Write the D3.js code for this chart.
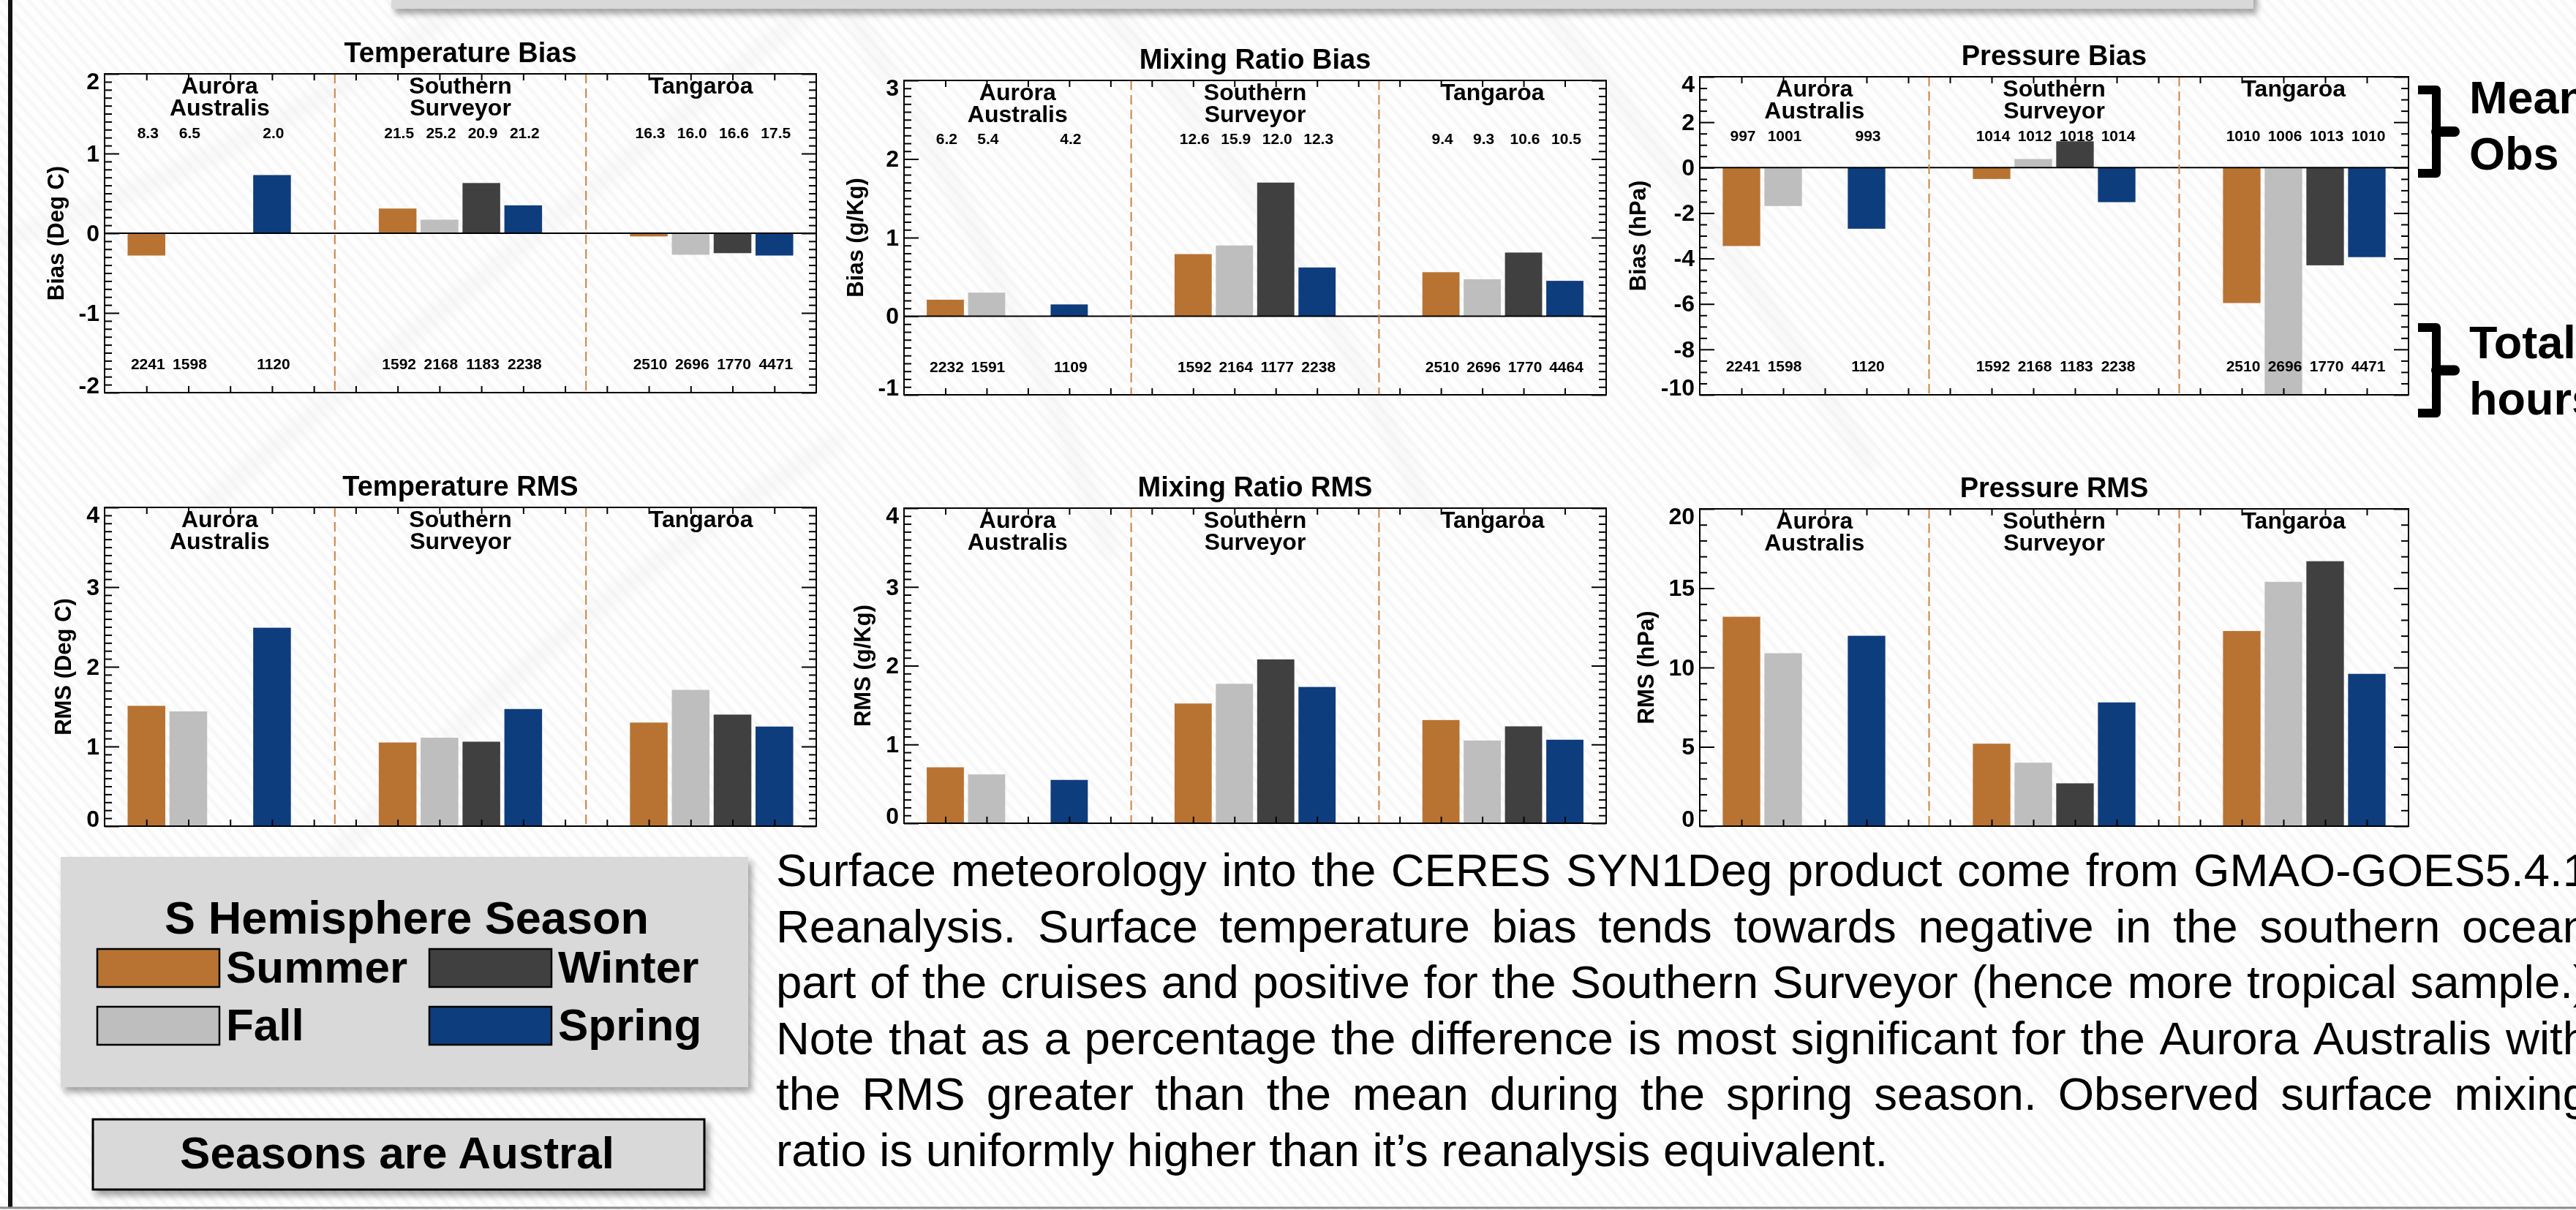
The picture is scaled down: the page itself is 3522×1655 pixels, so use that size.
<!DOCTYPE html>
<html>
<head>
<meta charset="utf-8">
<script src="https://cdn.jsdelivr.net/npm/d3@7"></script>
<style>
  body { margin: 0; background: #fff; overflow: hidden; }
</style>
</head>
<body>
<script>
// ---- data ----
const ships = [["Aurora", "Australis"], ["Southern", "Surveyor"], ["Tangaroa"]];
const seasons = ["Summer", "Fall", "Winter", "Spring"];
const seasonColors = ["#b87333", "#bebebe", "#404040", "#0e3d7d"];

// one row per ship, one column per season (null = no cruise that season)
const tempBias = [[-0.28, -0.01, null, 0.73], [0.31, 0.17, 0.63, 0.35], [-0.04, -0.27, -0.25, -0.28]];
const mixBias  = [[0.21, 0.30, null, 0.15], [0.79, 0.90, 1.70, 0.62], [0.56, 0.47, 0.81, 0.45]];
const presBias = [[-3.45, -1.69, null, -2.69], [-0.50, 0.38, 1.16, -1.52], [-5.96, -10.5, -4.30, -3.94]];
const tempRms  = [[1.51, 1.44, null, 2.49], [1.05, 1.11, 1.06, 1.47], [1.30, 1.71, 1.40, 1.25]];
const mixRms   = [[0.71, 0.62, null, 0.55], [1.52, 1.77, 2.08, 1.73], [1.31, 1.05, 1.23, 1.06]];
const presRms  = [[13.2, 10.9, null, 12.0], [5.2, 4.0, 2.7, 7.8], [12.3, 15.4, 16.7, 9.6]];

// mean observed values printed above the bars
const tempMeans = [[8.3, 6.5, null, 2.0], [21.5, 25.2, 20.9, 21.2], [16.3, 16.0, 16.6, 17.5]];
const mixMeans  = [[6.2, 5.4, null, 4.2], [12.6, 15.9, 12.0, 12.3], [9.4, 9.3, 10.6, 10.5]];
const presMeans = [[997, 1001, null, 993], [1014, 1012, 1018, 1014], [1010, 1006, 1013, 1010]];

// total hours printed near the bottom
const tempCounts = [[2241, 1598, null, 1120], [1592, 2168, 1183, 2238], [2510, 2696, 1770, 4471]];
const mixCounts  = [[2232, 1591, null, 1109], [1592, 2164, 1177, 2238], [2510, 2696, 1770, 4464]];
const presCounts = [[2241, 1598, null, 1120], [1592, 2168, 1183, 2238], [2510, 2696, 1770, 4471]];

const paraLines = [
  "Surface meteorology into the CERES SYN1Deg product come from GMAO-GOES5.4.1",
  "Reanalysis. Surface temperature bias tends towards negative in the southern ocean",
  "part of the cruises and positive for the Southern Surveyor (hence more tropical sample.)",
  "Note that as a percentage the difference is most significant for the Aurora Australis with",
  "the RMS greater than the mean during the spring season. Observed surface mixing",
  "ratio is uniformly higher than it\u2019s reanalysis equivalent."
];

const panels = [
  { title: "Temperature Bias", ytitle: "Bias (Deg C)", values: tempBias, domain: [-2, 2], major: 1, minor: 0.1, means: tempMeans, counts: tempCounts, fmt: ".1f" },
  { title: "Mixing Ratio Bias", ytitle: "Bias (g/Kg)", values: mixBias, domain: [-1, 3], major: 1, minor: 0.1, means: mixMeans, counts: mixCounts, fmt: ".1f" },
  { title: "Pressure Bias", ytitle: "Bias (hPa)", values: presBias, domain: [-10, 4], major: 2, minor: 0.5, means: presMeans, counts: presCounts, fmt: "d" },
  { title: "Temperature RMS", ytitle: "RMS (Deg C)", values: tempRms, domain: [0, 4], major: 1, minor: 0.1 },
  { title: "Mixing Ratio RMS", ytitle: "RMS (g/Kg)", values: mixRms, domain: [0, 4], major: 1, minor: 0.1 },
  { title: "Pressure RMS", ytitle: "RMS (hPa)", values: presRms, domain: [0, 20], major: 5, minor: 1 }
];

// ---- layout ----
const width = 3522, height = 1655;
const FONT = "'Liberation Sans', Arial, Helvetica, sans-serif";
const panelBoxes = [
  { l: 143, r: 1116, t: 101, b: 537 },
  { l: 1236, r: 2196, t: 110, b: 540 },
  { l: 2324, r: 3293, t: 105, b: 540 },
  { l: 143, r: 1116, t: 694, b: 1130 },
  { l: 1236, r: 2196, t: 695, b: 1126 },
  { l: 2324, r: 3293, t: 696, b: 1130 }
];
const groupEdges = [0, 5.5, 11.5, 17]; // x units, bars sit at 1..4, 7..10, 13..16
const barWidth = 0.9;

const svg = d3.select("body").append("svg")
  .attr("width", width)
  .attr("height", height)
  .style("display", "block");

const defs = svg.append("defs");

const shadow = defs.append("filter").attr("id", "shadow")
  .attr("x", "-10%").attr("y", "-20%").attr("width", "130%").attr("height", "150%");
shadow.append("feDropShadow")
  .attr("dx", 5).attr("dy", 7).attr("stdDeviation", 4)
  .attr("flood-color", "#000").attr("flood-opacity", 0.35);

defs.append("filter").attr("id", "soft")
  .append("feGaussianBlur").attr("stdDeviation", 8);

// faint woven texture of the slide background
const hatch = defs.append("pattern").attr("id", "hatch")
  .attr("patternUnits", "userSpaceOnUse")
  .attr("width", 13).attr("height", 13)
  .attr("patternTransform", "rotate(-42)");
hatch.append("rect").attr("width", 13).attr("height", 13).attr("fill", "#fefefe");
hatch.append("rect").attr("width", 5).attr("height", 13).attr("fill", "#f7f7f7");

svg.append("rect").attr("width", width).attr("height", height).attr("fill", "url(#hatch)");

// a few big soft swooshes
const swooshes = [
  "M 0,330 C 250,250 480,120 640,0",
  "M 250,720 C 520,480 820,260 1120,0",
  "M 1150,0 C 1300,220 1420,480 1520,760",
  "M 1500,0 C 1700,220 1850,460 1960,720",
  "M 2100,0 C 2250,170 2420,420 2560,640",
  "M 450,1180 C 700,900 900,760 1150,600"
];
svg.append("g")
  .attr("filter", "url(#soft)")
  .selectAll("path")
  .data(swooshes)
  .join("path")
  .attr("d", d => d)
  .attr("fill", "none")
  .attr("stroke", "#ececec")
  .attr("stroke-width", 24)
  .attr("opacity", 0.3);

// bottom of the slide title box
svg.append("rect")
  .attr("x", 535).attr("y", -60)
  .attr("width", 2546).attr("height", 72)
  .attr("fill", "#d9d9d9")
  .attr("filter", "url(#shadow)");

// slide frame
svg.append("rect").attr("x", 11).attr("y", 0).attr("width", 6).attr("height", 1652).attr("fill", "#111");
svg.append("line")
  .attr("x1", 0).attr("x2", width).attr("y1", 1652).attr("y2", 1652)
  .attr("stroke", "#8c8c8c").attr("stroke-width", 3);

// ---- panels ----
panels.forEach((p, i) => {
  const box = panelBoxes[i];
  const x = d3.scaleLinear().domain([0, 17]).range([box.l, box.r]);
  const y = d3.scaleLinear().domain(p.domain).range([box.b, box.t]);
  const g = svg.append("g").attr("font-family", FONT);

  const clipId = "clip" + i;
  defs.append("clipPath").attr("id", clipId)
    .append("rect")
    .attr("x", box.l).attr("y", box.t)
    .attr("width", box.r - box.l).attr("height", box.b - box.t);

  const slot = d => 1 + 6 * d.ship + d.season;
  const cells = [];
  p.values.forEach((row, s) => row.forEach((v, k) => {
    if (v !== null) cells.push({ ship: s, season: k, v });
  }));

  // bars
  g.append("g")
    .attr("clip-path", `url(#${clipId})`)
    .selectAll("rect")
    .data(cells)
    .join("rect")
    .attr("x", d => x(slot(d) - barWidth / 2))
    .attr("width", x(barWidth) - x(0))
    .attr("y", d => y(Math.max(0, d.v)))
    .attr("height", d => Math.abs(y(d.v) - y(0)))
    .attr("fill", d => seasonColors[d.season]);

  // zero line for the bias plots
  if (p.domain[0] < 0) {
    g.append("line")
      .attr("x1", box.l).attr("x2", box.r)
      .attr("y1", y(0)).attr("y2", y(0))
      .attr("stroke", "#000").attr("stroke-width", 2);
  }

  // dashed separators between ships
  g.selectAll(".sep")
    .data(groupEdges.slice(1, -1))
    .join("line")
    .attr("class", "sep")
    .attr("x1", d => x(d)).attr("x2", d => x(d))
    .attr("y1", box.t).attr("y2", box.b)
    .attr("stroke", "#c98440")
    .attr("stroke-width", 2)
    .attr("stroke-dasharray", "13,7");

  // y ticks
  const majors = d3.range(p.domain[0], p.domain[1] + 1e-9, p.major);
  const minors = d3.range(p.domain[0], p.domain[1] + 1e-9, p.minor)
    .filter(v => !majors.some(m => Math.abs(m - v) < 1e-6));
  const clampY = v => Math.max(box.t + 10, Math.min(box.b - 10, y(v)));

  const yl = g.append("g")
    .attr("transform", `translate(${box.l},0)`)
    .call(d3.axisLeft(y).tickValues(majors).tickSize(-20).tickPadding(7).tickFormat(d => String(d)));
  yl.attr("font-size", 32).attr("font-family", FONT).attr("font-weight", "bold");
  yl.selectAll(".tick text").attr("fill", "#000").attr("y", d => clampY(d) - y(d));

  g.append("g")
    .attr("transform", `translate(${box.l},0)`)
    .call(d3.axisLeft(y).tickValues(minors).tickSize(-10).tickFormat(""));
  g.append("g")
    .attr("transform", `translate(${box.r},0)`)
    .call(d3.axisRight(y).tickValues(majors).tickSize(-20).tickFormat(""));
  g.append("g")
    .attr("transform", `translate(${box.r},0)`)
    .call(d3.axisRight(y).tickValues(minors).tickSize(-10).tickFormat(""));

  // x ticks top and bottom
  const xTicks = d3.range(1, 17);
  g.append("g")
    .attr("transform", `translate(0,${box.b})`)
    .call(d3.axisBottom(x).tickValues(xTicks).tickSize(-9).tickFormat(""));
  g.append("g")
    .attr("transform", `translate(0,${box.t})`)
    .call(d3.axisTop(x).tickValues(xTicks).tickSize(-9).tickFormat(""));

  g.selectAll(".domain").remove();
  g.selectAll(".tick line").attr("stroke", "#000").attr("stroke-width", 2);

  // frame
  g.append("rect")
    .attr("x", box.l).attr("y", box.t)
    .attr("width", box.r - box.l).attr("height", box.b - box.t)
    .attr("fill", "none").attr("stroke", "#000").attr("stroke-width", 2);

  // title
  g.append("text")
    .attr("x", (box.l + box.r) / 2)
    .attr("y", box.t - 16)
    .attr("text-anchor", "middle")
    .attr("font-size", 38)
    .attr("font-weight", "bold")
    .text(p.title);

  // y title, placed just outside the widest tick label
  const labelW = d3.max(yl.selectAll(".tick text").nodes(), n => n.getBBox().width);
  g.append("text")
    .attr("transform", `translate(${box.l - labelW - 39},${(box.t + box.b) / 2}) rotate(-90)`)
    .attr("text-anchor", "middle")
    .attr("dy", "0.36em")
    .attr("font-size", 31)
    .attr("font-weight", "bold")
    .text(p.ytitle);

  // ship names
  ships.forEach((name, s) => {
    const cx = x((groupEdges[s] + groupEdges[s + 1]) / 2);
    name.forEach((line, k) => {
      g.append("text")
        .attr("x", cx)
        .attr("y", box.t + 27 + k * 30)
        .attr("text-anchor", "middle")
        .attr("font-size", 32)
        .attr("font-weight", "bold")
        .text(line);
    });
  });

  // mean obs and total hours
  if (p.means) {
    const h = box.b - box.t;
    const fmt = d3.format(p.fmt);
    const labelRows = [
      { data: p.means, y: box.t + 0.185 * h + 7.5, fmt },
      { data: p.counts, y: box.t + 0.91 * h + 7.5, fmt: d3.format("d") }
    ];
    labelRows.forEach(row => {
      const items = [];
      row.data.forEach((r, s) => r.forEach((v, k) => {
        if (v !== null) items.push({ ship: s, season: k, v });
      }));
      g.append("g")
        .selectAll("text")
        .data(items)
        .join("text")
        .attr("x", d => x(slot(d)) + 2)
        .attr("y", row.y)
        .attr("text-anchor", "middle")
        .attr("font-size", 21)
        .attr("font-weight", "bold")
        .text(d => row.fmt(d.v));
    });
  }
});

// ---- braces on the right ----
function brace(top, bottom, labels, firstBaseline) {
  const bx = 3306, bar = 3331, mid = (top + bottom) / 2;
  const b = svg.append("g");
  b.append("path")
    .attr("d", `M ${bx},${top + 6} H ${bar} V ${bottom - 6} H ${bx}`)
    .attr("fill", "none").attr("stroke", "#000")
    .attr("stroke-width", 12).attr("stroke-linejoin", "round");
  b.append("path")
    .attr("d", `M ${bar},${mid} H 3356`)
    .attr("stroke", "#000").attr("stroke-width", 14).attr("stroke-linecap", "round");
  labels.forEach((t, k) => {
    b.append("text")
      .attr("x", 3376)
      .attr("y", firstBaseline + k * 77)
      .attr("font-family", FONT)
      .attr("font-size", 63)
      .attr("font-weight", "bold")
      .text(t);
  });
}
brace(117, 243, ["Mean", "Obs"], 155);
brace(442, 571, ["Total", "hours"], 490);

// ---- legend ----
const legend = svg.append("g").attr("font-family", FONT).attr("font-weight", "bold");
legend.append("rect")
  .attr("x", 83).attr("y", 1172)
  .attr("width", 940).attr("height", 315)
  .attr("fill", "#d9d9d9")
  .attr("filter", "url(#shadow)");
legend.append("text")
  .attr("x", 556).attr("y", 1277)
  .attr("text-anchor", "middle")
  .attr("font-size", 63)
  .text("S Hemisphere Season");

const colX = [133, 587], rowY = [1298, 1377];
seasons.forEach((s, k) => {
  const sx = colX[k >= 2 ? 1 : 0], sy = rowY[k % 2];
  legend.append("rect")
    .attr("x", sx).attr("y", sy)
    .attr("width", 167).attr("height", 52)
    .attr("fill", seasonColors[k])
    .attr("stroke", "#000").attr("stroke-width", 2.5);
  legend.append("text")
    .attr("x", sx + 176).attr("y", sy + 46)
    .attr("font-size", 62)
    .text(s);
});

const note = svg.append("g").attr("font-family", FONT).attr("font-weight", "bold");
note.append("rect")
  .attr("x", 127).attr("y", 1531)
  .attr("width", 836).attr("height", 96)
  .attr("fill", "#d9d9d9")
  .attr("stroke", "#000").attr("stroke-width", 3)
  .attr("filter", "url(#shadow)");
note.append("text")
  .attr("x", 543).attr("y", 1598)
  .attr("text-anchor", "middle")
  .attr("font-size", 62)
  .text("Seasons are Austral");

// ---- justified paragraph ----
const paraX = 1061, paraTop = 1212, paraStep = 76.6, paraWidth = 2478;
const para = svg.append("g").attr("font-family", FONT).attr("font-size", 63.5).attr("fill", "#000");
paraLines.forEach((line, i) => {
  const words = line.split(" ");
  const t = para.append("text").attr("y", paraTop + i * paraStep);
  const spans = words.map(w => t.append("tspan").text(w));
  const widths = spans.map(s => s.node().getComputedTextLength());
  const last = i === paraLines.length - 1;
  const gap = last ? 63.5 * 0.278 : (paraWidth - d3.sum(widths)) / (words.length - 1);
  let cx = paraX;
  spans.forEach((s, j) => {
    s.attr("x", cx);
    cx += widths[j] + gap;
  });
});
</script>
</body>
</html>
